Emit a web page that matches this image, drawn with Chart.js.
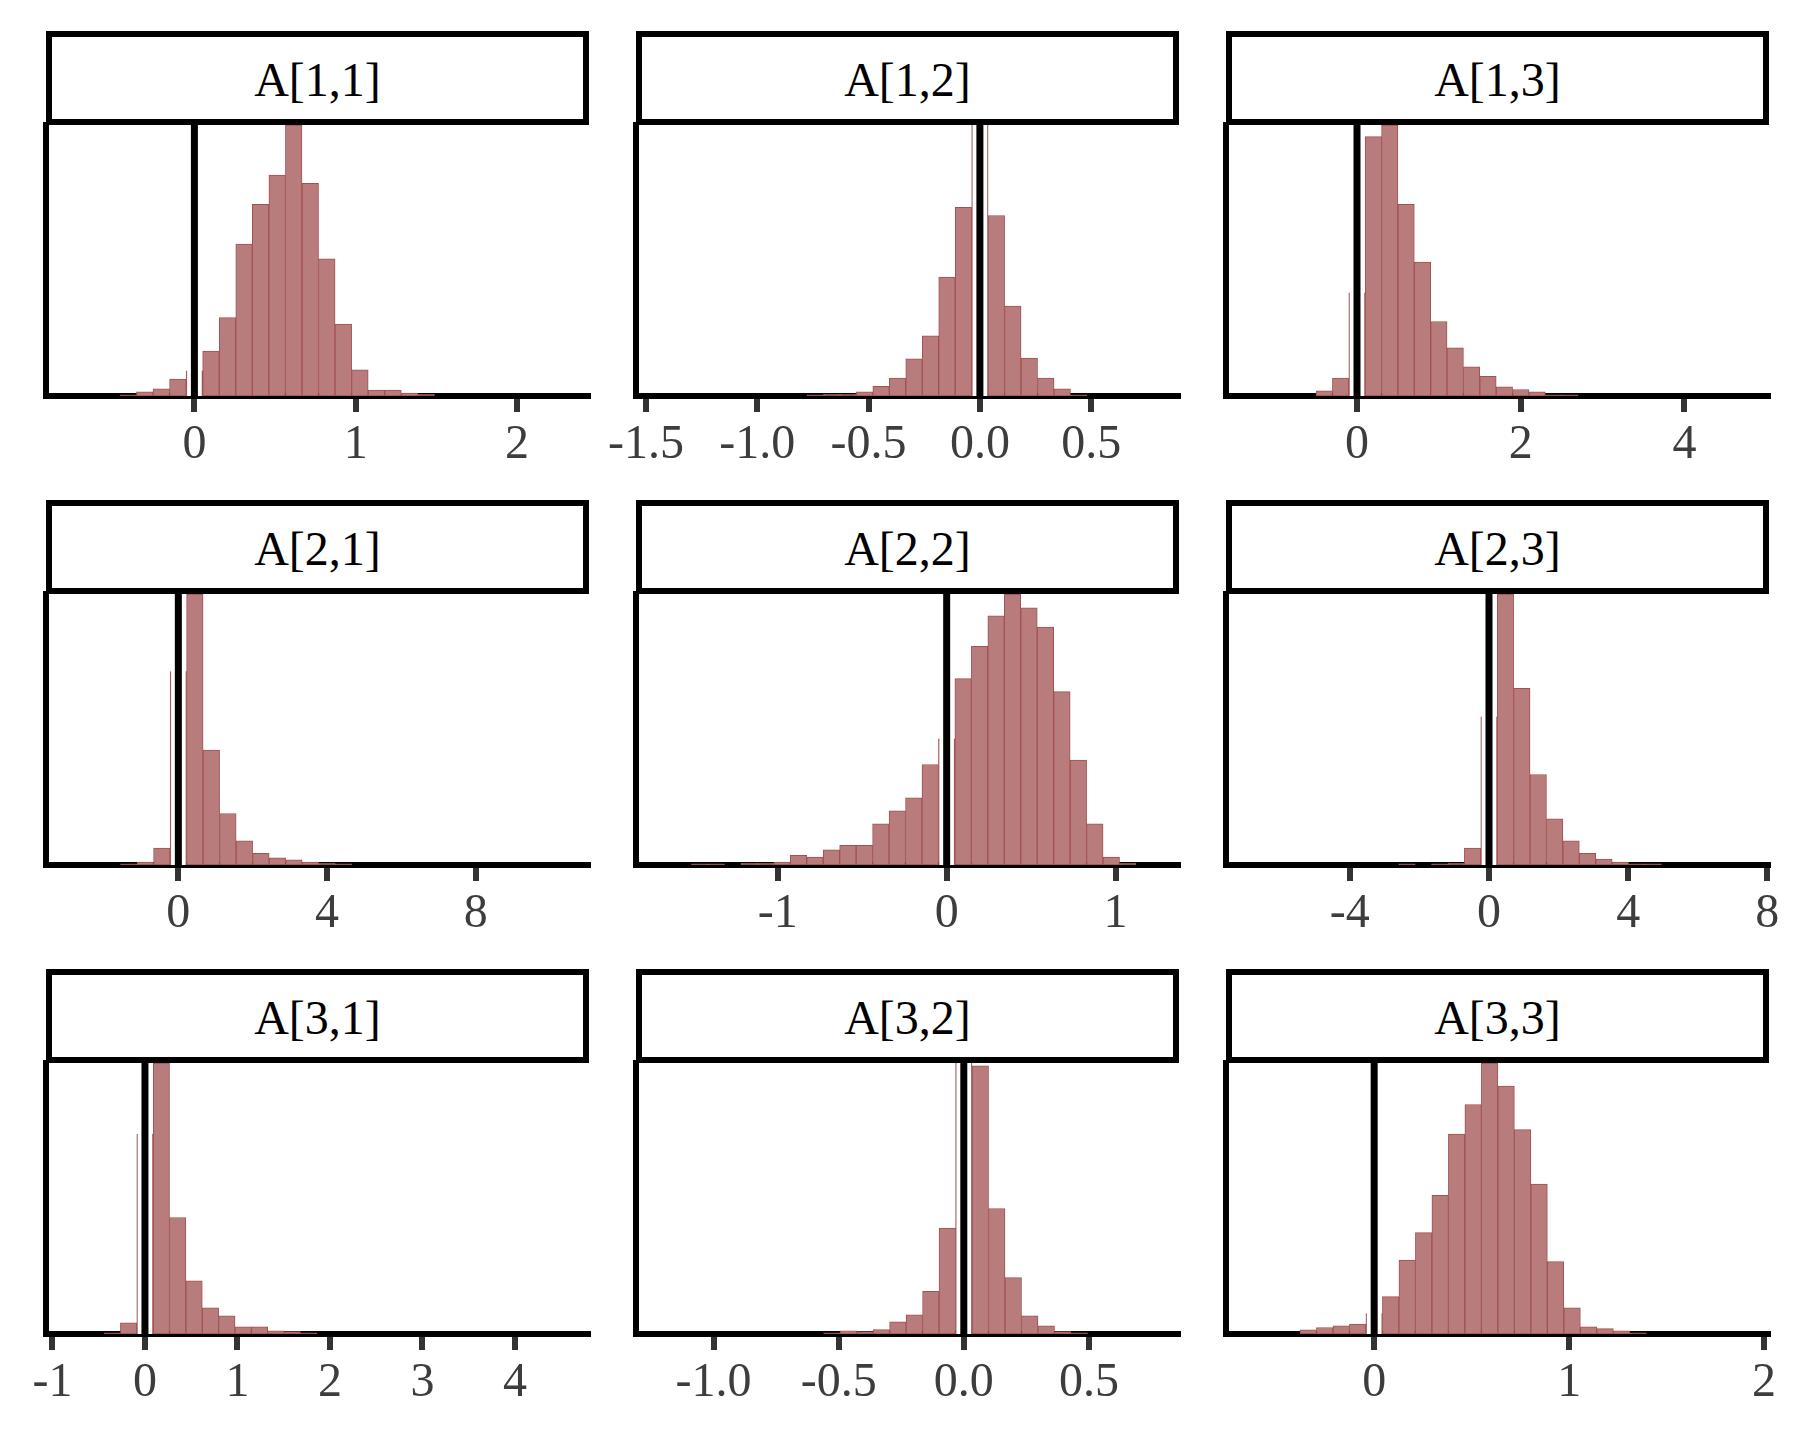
<!DOCTYPE html>
<html>
<head>
<meta charset="utf-8">
<script src="https://cdn.jsdelivr.net/npm/chart.js@4.4.1/dist/chart.umd.min.js"></script>
<style>
html, body { margin: 0; padding: 0; background: #ffffff; }
body { width: 1800px; height: 1440px; position: relative; overflow: hidden; font-family: 'Liberation Serif', 'Times New Roman', serif; }
.strip { position: absolute; box-sizing: border-box; border: 6px solid #000; background: #fff;
         display: flex; align-items: center; justify-content: center; font-size: 48px; color: #000; padding-top: 2px; }
canvas { position: absolute; }
</style>
</head>
<body>
<script>
// ---------------- data ----------------
const panelTitles = ["A[1,1]", "A[1,2]", "A[1,3]", "A[2,1]", "A[2,2]", "A[2,3]", "A[3,1]", "A[3,2]", "A[3,3]"];

// histogram bin widths (one bin is centred on 0) and index of the first bin (centre = index * width)
const binWidths = [0.1026, 0.074, 0.2, 0.444, 0.0975, 0.472, 0.177, 0.0659, 0.0846];
const firstBins = [-4, -10, -2, -3, -15, -5, -2, -8, -4];

// bin counts (relative, tallest bin = 1000)
const counts11 = [4, 15, 26, 62, 93, 166, 289, 561, 707, 815, 1000, 785, 506, 265, 97, 22, 22, 11, 7];
const counts12 = [4, 7, 7, 15, 36, 66, 137, 222, 439, 696, 1000, 666, 332, 140, 66, 26, 4];
const counts13 = [19, 66, 381, 957, 1000, 707, 494, 275, 178, 108, 73, 34, 24, 15, 4, 4];
const counts21 = [4, 11, 62, 714, 1000, 424, 190, 89, 43, 26, 19, 11, 7, 4];
const counts22 = [4, 4, 0, 7, 7, 11, 36, 29, 56, 73, 73, 152, 200, 248, 371, 466, 688, 807, 919, 1000, 949, 878, 640, 387, 152, 29, 7];
const counts23 = [4, 0, 4, 7, 62, 547, 1000, 652, 334, 170, 89, 43, 22, 11, 4, 4];
const counts31 = [4, 41, 738, 1000, 430, 196, 97, 67, 26, 26, 12, 9, 4];
const counts32 = [4, 12, 9, 16, 45, 71, 157, 391, 1000, 990, 463, 208, 67, 30, 9, 4];
const counts33 = [15, 24, 30, 37, 75, 138, 273, 374, 512, 738, 847, 1000, 915, 754, 553, 267, 97, 26, 20, 12, 4];
const allCounts = [counts11, counts12, counts13, counts21, counts22, counts23, counts31, counts32, counts33];

// x-axis ranges
const xMins = [-0.92, -1.545, -1.6, -3.56, -1.84, -7.56, -1.07, -1.31, -0.76];
const xMaxs = [2.44, 0.89, 5.02, 11.02, 1.37, 8.02, 4.79, 0.856, 2.02];

// tick values and tick labels
const tickValues = [
  [0, 1, 2],
  [-1.5, -1.0, -0.5, 0.0, 0.5],
  [0, 2, 4],
  [0, 4, 8],
  [-1, 0, 1],
  [-4, 0, 4, 8],
  [-1, 0, 1, 2, 3, 4],
  [-1.0, -0.5, 0.0, 0.5],
  [0, 1, 2]
];
const tickLabels = [
  ["0", "1", "2"],
  ["-1.5", "-1.0", "-0.5", "0.0", "0.5"],
  ["0", "2", "4"],
  ["0", "4", "8"],
  ["-1", "0", "1"],
  ["-4", "0", "4", "8"],
  ["-1", "0", "1", "2", "3", "4"],
  ["-1.0", "-0.5", "0.0", "0.5"],
  ["0", "1", "2"]
];
const refLine = 0;

// ---------------- layout ----------------
const PLOT_LEFT0 = 46, COL_STEP = 590, PLOT_W = 542;
const PLOT_TOP0 = 125, ROW_STEP = 469, PLOT_H = 271;
const STRIP_H = 94, STRIP_W = 543;
const PAD_X = 70, PAD_T = 10, PAD_B = 10, AXIS_H = 90;

const zeroLinePlugin = {
  id: 'zeroLine',
  afterDatasetsDraw(chart, args, opts) {
    const { ctx, chartArea, scales } = chart;
    const x = scales.x;
    const w = opts.binWidth;
    const l = x.getPixelForValue(refLine - w / 2) + 1;
    const r = x.getPixelForValue(refLine + w / 2) - 1;
    ctx.save();
    ctx.fillStyle = '#ffffff';
    ctx.fillRect(l, chartArea.top, r - l, chartArea.bottom - chartArea.top);
    const x0 = x.getPixelForValue(refLine);
    ctx.strokeStyle = '#000000';
    ctx.lineWidth = 7;
    ctx.beginPath();
    ctx.moveTo(x0, chartArea.top - 1);
    ctx.lineTo(x0, chartArea.bottom);
    ctx.stroke();
    ctx.restore();
  }
};

Chart.defaults.font.family = "'Liberation Serif', 'Times New Roman', serif";
Chart.defaults.animation = false;

for (let p = 0; p < 9; p++) {
  const row = Math.floor(p / 3), col = p % 3;
  const plotLeft = PLOT_LEFT0 + col * COL_STEP;
  const plotTop = PLOT_TOP0 + row * ROW_STEP;

  const strip = document.createElement('div');
  strip.className = 'strip';
  strip.style.left = plotLeft + 'px';
  strip.style.top = (plotTop - STRIP_H) + 'px';
  strip.style.width = STRIP_W + 'px';
  strip.style.height = STRIP_H + 'px';
  strip.textContent = panelTitles[p];
  document.body.appendChild(strip);

  const cv = document.createElement('canvas');
  const cw = PLOT_W + 2 * PAD_X, ch = PAD_T + PLOT_H + AXIS_H + PAD_B;
  cv.width = cw; cv.height = ch;
  cv.style.width = cw + 'px'; cv.style.height = ch + 'px';
  cv.style.left = (plotLeft - PAD_X) + 'px';
  cv.style.top = (plotTop - PAD_T) + 'px';
  document.body.appendChild(cv);

  const w = binWidths[p];
  const counts = allCounts[p];
  const data = counts.map((c, i) => ({ x: (firstBins[p] + i) * w, y: c }));
  const ymax = Math.max(...counts);
  const tv = tickValues[p], tl = tickLabels[p];

  new Chart(cv, {
    type: 'bar',
    data: {
      datasets: [{
        data: data,
        backgroundColor: '#B97C7C',
        borderColor: '#A25050',
        borderWidth: 1,
        borderSkipped: false,
        barPercentage: 1.0,
        categoryPercentage: 1.0
      }]
    },
    options: {
      responsive: false,
      maintainAspectRatio: false,
      devicePixelRatio: 1,
      animation: false,
      layout: { padding: { left: PAD_X, right: PAD_X, top: PAD_T, bottom: PAD_B } },
      plugins: {
        legend: { display: false },
        tooltip: { enabled: false },
        title: { display: false },
        zeroLine: { binWidth: w }
      },
      scales: {
        x: {
          type: 'linear',
          min: xMins[p], max: xMaxs[p],
          bounds: 'data',
          offset: false,
          z: 1,
          grid: { display: true, drawOnChartArea: false, drawTicks: true, offset: false,
                  tickLength: 16, tickWidth: 6, tickColor: '#333333', color: '#333333', lineWidth: 6 },
          border: { display: true, color: '#000000', width: 6 },
          afterBuildTicks: (s) => { s.ticks = tv.map(v => ({ value: v })); },
          afterFit: (s) => { s.height = AXIS_H; },
          ticks: {
            autoSkip: false, maxRotation: 0, minRotation: 0, padding: 5,
            color: '#3d3d3d',
            font: { family: "'Liberation Serif', 'Times New Roman', serif", size: 48 },
            callback: (v, i) => tl[i]
          }
        },
        y: {
          type: 'linear',
          min: 0, max: ymax,
          bounds: 'data',
          z: 1,
          grid: { display: false, drawTicks: false },
          border: { display: true, color: '#000000', width: 6 },
          ticks: { display: false },
          afterFit: (s) => { s.width = 0; }
        }
      }
    },
    plugins: [zeroLinePlugin]
  });
}
</script>
</body>
</html>
